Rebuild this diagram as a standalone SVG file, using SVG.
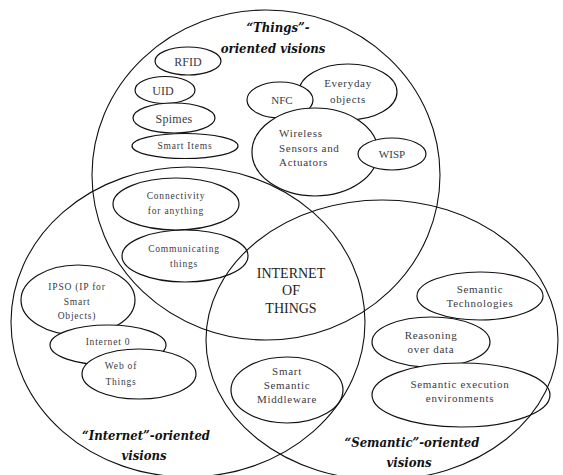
<svg xmlns="http://www.w3.org/2000/svg" width="563" height="475" viewBox="0 0 563 475">
<style>
ellipse{fill:#fff;stroke:#111;stroke-width:1.2}
.big{fill:none;stroke-width:1.1}
text{font-family:"Liberation Serif","Times New Roman",serif;fill:#3a3a44;font-size:11px;text-anchor:middle;letter-spacing:0.7px}
.h{font-family:"DejaVu Serif","Liberation Serif",serif;font-stretch:condensed;font-weight:bold;font-style:italic;font-size:13px;fill:#111;letter-spacing:0}
.iot{font-size:14px;fill:#222;letter-spacing:0}
.sm{font-size:9.5px;letter-spacing:0.8px}
.l{text-anchor:start}
</style>
<rect width="563" height="475" fill="#fff"/>
<g id="rfid"><ellipse cx="188" cy="61" rx="33" ry="14"/><text x="188" y="66" style="font-size:12px;letter-spacing:0">RFID</text></g>
<g id="uid"><ellipse cx="165" cy="90" rx="30" ry="13.5"/><text x="163" y="95" style="font-size:12px;letter-spacing:0">UID</text></g>
<g id="spimes"><ellipse cx="174" cy="118" rx="41" ry="15"/><text x="174" y="123" style="font-size:12px;letter-spacing:0.3px">Spimes</text></g>
<g id="smart-items"><ellipse cx="185" cy="146" rx="53" ry="12.5"/><text class="sm" x="185" y="149">Smart Items</text></g>
<g id="everyday"><ellipse cx="348" cy="92" rx="49" ry="28"/><text x="348" y="87">Everyday</text><text x="348" y="103">objects</text></g>
<g id="nfc"><ellipse cx="280" cy="100" rx="33" ry="18"/><text x="282" y="104" style="letter-spacing:0">NFC</text></g>
<g id="wireless"><ellipse cx="315" cy="152" rx="63" ry="44"/>
<text class="l" x="279" y="137">Wireless</text>
<text class="l" x="279" y="152">Sensors and</text>
<text class="l" x="279" y="166">Actuators</text></g>
<g id="wisp"><ellipse cx="392" cy="154" rx="34" ry="16"/><text x="392" y="158" style="letter-spacing:0">WISP</text></g>
<g id="connectivity"><ellipse cx="176" cy="204" rx="63" ry="26"/><text class="sm" x="176" y="199">Connectivity</text><text class="sm" x="176" y="214">for anything</text></g>
<g id="communicating"><ellipse cx="185" cy="256" rx="63" ry="26"/><text class="sm" x="184" y="252">Communicating</text><text class="sm" x="184" y="267">things</text></g>
<g id="ipso"><ellipse cx="78" cy="300" rx="57" ry="35"/><text class="sm" x="77" y="290">IPSO (IP for</text><text class="sm" x="77" y="305">Smart</text><text class="sm" x="77" y="319">Objects)</text></g>
<g id="internet0"><ellipse cx="108" cy="345" rx="58" ry="20"/><text class="sm" x="108" y="345">Internet 0</text></g>
<g id="web-of-things"><ellipse cx="139" cy="374" rx="57" ry="25"/><text class="sm" x="121" y="369">Web of</text><text class="sm" x="121" y="385">Things</text></g>
<g id="middleware"><ellipse cx="287" cy="390" rx="56" ry="33"/><text x="287" y="375">Smart</text><text x="287" y="389">Semantic</text><text x="287" y="403">Middleware</text></g>
<g id="sem-tech"><ellipse cx="480" cy="296" rx="63" ry="24"/><text x="480" y="293">Semantic</text><text x="480" y="307">Technologies</text></g>
<g id="reasoning"><ellipse cx="431" cy="342" rx="59" ry="25"/><text x="431" y="339">Reasoning</text><text x="431" y="353">over data</text></g>
<g id="sem-exec"><ellipse cx="461" cy="395" rx="89" ry="32"/><text x="460" y="388">Semantic execution</text><text x="460" y="402">environments</text></g>
<g id="things-visions">
<ellipse class="big" cx="266" cy="175" rx="174" ry="165"/>
<text class="h" x="278" y="32">“Things”-</text>
<text class="h" x="273" y="53">oriented visions</text>
</g>
<g id="internet-visions">
<ellipse class="big" cx="188" cy="322" rx="177" ry="155"/>
<text class="h" x="146" y="440">“Internet”-oriented</text>
<text class="h" x="144" y="460">visions</text>
</g>
<g id="semantic-visions">
<ellipse class="big" cx="382" cy="340" rx="176" ry="140"/>
<text class="h" x="412" y="447">“Semantic”-oriented</text>
<text class="h" x="409" y="467">visions</text>
</g>
<g id="iot">
<text class="iot" x="291" y="278">INTERNET</text>
<text class="iot" x="291" y="295">OF</text>
<text class="iot" x="291" y="313">THINGS</text>
</g>
</svg>
